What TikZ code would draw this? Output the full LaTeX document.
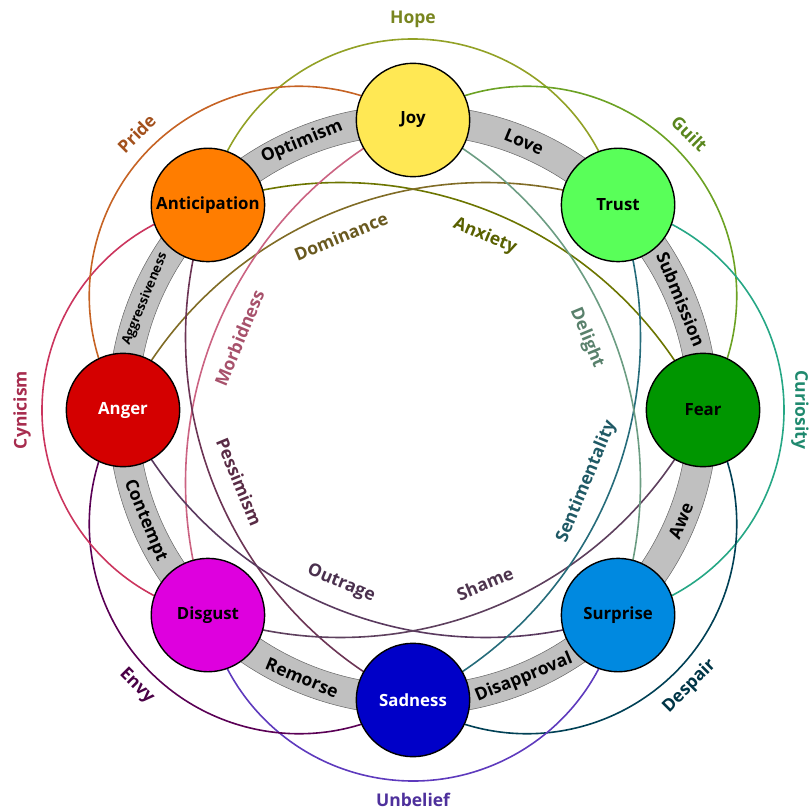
\documentclass[tikz,border=0pt]{standalone}
\usepackage{fontspec}
\setmainfont{Open Sans}
\pgfdeclarelayer{bg}
\pgfsetlayers{bg,main}
\definecolor{cJoy}{RGB}{255,232,84}
\definecolor{cTrust}{RGB}{89,255,89}
\definecolor{cFear}{RGB}{0,150,0}
\definecolor{cSurprise}{RGB}{0,137,224}
\definecolor{cSadness}{RGB}{0,0,200}
\definecolor{cDisgust}{RGB}{222,0,222}
\definecolor{cAnger}{RGB}{212,0,0}
\definecolor{cAntic}{RGB}{255,125,0}
\definecolor{bandgray}{RGB}{192,192,192}
% dyad mixes
\colorlet{mHope}{cAntic!50!cTrust}
\colorlet{mGuilt}{cJoy!50!cFear}
\colorlet{mCuriosity}{cTrust!50!cSurprise}
\colorlet{mDespair}{cFear!50!cSadness}
\colorlet{mUnbelief}{cSurprise!50!cDisgust}
\colorlet{mEnvy}{cSadness!50!cAnger}
\colorlet{mCynicism}{cDisgust!50!cAntic}
\colorlet{mPride}{cAnger!50!cJoy}
\colorlet{mAnxiety}{cAntic!50!cFear}
\colorlet{mDominance}{cAnger!50!cTrust}
\colorlet{mMorbidness}{cDisgust!50!cJoy}
\colorlet{mPessimism}{cSadness!50!cAntic}
\colorlet{mOutrage}{cSurprise!50!cAnger}
\colorlet{mShame}{cFear!50!cDisgust}
\colorlet{mSentimentality}{cTrust!50!cSadness}
\colorlet{mDelight}{cJoy!50!cSurprise}
\begin{document}
\begin{tikzpicture}[x=1pt,y=1pt,
  emo/.style={circle, draw=black, line width=1.4pt, minimum size=113.4pt, inner sep=0pt,
    font=\fontsize{16.8}{19}\selectfont\bfseries},
  arcline/.style={line width=1.6pt},
  bandlabel/.style={font=\fontsize{17.5}{20}\selectfont\bfseries, text=black, inner sep=0pt},
  dlabel/.style={font=\fontsize{17.5}{20}\selectfont\bfseries, inner sep=0pt},
]
\useasboundingbox (-413,-402) rectangle (398,410);

% emotion nodes
\node[emo, fill=cJoy] (joy) at (90:290) {Joy};
\node[emo, fill=cTrust] (trust) at (45:290) {Trust};
\node[emo, fill=cFear] (fear) at (0:290) {Fear};
\node[emo, fill=cSurprise] (surprise) at (-45:290) {Surprise};
\node[emo, fill=cSadness, text=white] (sadness) at (-90:290) {Sadness};
\node[emo, fill=cDisgust] (disgust) at (-135:290) {Disgust};
\node[emo, fill=cAnger, text=white] (anger) at (180:290) {Anger};
\node[emo, fill=cAntic] (antic) at (135:290) {Anticipation};

\begin{pgfonlayer}{bg}
  % primary dyad band
  \fill[bandgray, even odd rule] (0,0) circle[radius=305] (0,0) circle[radius=275];
  \draw[gray!80!black, line width=0.5pt] (0,0) circle[radius=305] (0,0) circle[radius=275];
  % secondary dyads (outer arcs)
  \draw[arcline, mHope!85!black] (antic.center) arc[start angle=167.95, end angle=12.05, radius=209.7];
  \draw[arcline, mGuilt!85!black] (joy.center) arc[start angle=122.95, end angle=-32.95, radius=209.7];
  \draw[arcline, mCuriosity!85!black] (trust.center) arc[start angle=77.95, end angle=-77.95, radius=209.7];
  \draw[arcline, mDespair!85!black] (fear.center) arc[start angle=32.95, end angle=-122.95, radius=209.7];
  \draw[arcline, mUnbelief!85!black] (surprise.center) arc[start angle=-12.05, end angle=-167.95, radius=209.7];
  \draw[arcline, mEnvy!85!black] (sadness.center) arc[start angle=-57.05, end angle=-212.95, radius=209.7];
  \draw[arcline, mCynicism!85!black] (disgust.center) arc[start angle=257.95, end angle=102.05, radius=209.7];
  \draw[arcline, mPride!85!black] (anger.center) arc[start angle=212.95, end angle=57.05, radius=209.7];
  % tertiary dyads (inner arcs)
  \draw[arcline, mAnxiety!85!black] (antic.center) arc[start angle=109.18, end angle=25.82, radius=402.9];
  \draw[arcline, mDominance!85!black] (anger.center) arc[start angle=154.18, end angle=70.82, radius=402.9];
  \draw[arcline, mMorbidness!85!black] (disgust.center) arc[start angle=199.18, end angle=115.82, radius=402.9];
  \draw[arcline, mPessimism!85!black] (sadness.center) arc[start angle=244.18, end angle=160.82, radius=402.9];
  \draw[arcline, mOutrage!85!black] (surprise.center) arc[start angle=289.18, end angle=205.82, radius=402.9];
  \draw[arcline, mShame!85!black] (fear.center) arc[start angle=334.18, end angle=250.82, radius=402.9];
  \draw[arcline, mSentimentality!85!black] (trust.center) arc[start angle=379.18, end angle=295.82, radius=402.9];
  \draw[arcline, mDelight!85!black] (joy.center) arc[start angle=64.18, end angle=-19.18, radius=402.9];
\end{pgfonlayer}

% primary dyad labels
\node[bandlabel, rotate=22.5] (optimism) at (112.5:290) {Optimism};
\node[bandlabel, rotate=-22.5] (love) at (67.5:290) {Love};
\node[bandlabel, rotate=-67.5] (submission) at (22.5:290) {Submission};
\node[bandlabel, rotate=67.5] (awe) at (-22.5:290) {Awe};
\node[bandlabel, rotate=22.5] (disapproval) at (-67.5:290) {Disapproval};
\node[bandlabel, rotate=-22.5] (remorse) at (-112.5:290) {Remorse};
\node[bandlabel, rotate=-67.5] (contempt) at (-157.5:290) {Contempt};
\node[bandlabel, rotate=67.5, font=\fontsize{13}{15}\selectfont\bfseries] (aggress) at (157.5:290) {Aggressiveness};

% secondary dyad labels
\node[dlabel, text=mHope!70!black, rotate=0] (hope) at (90:391) {Hope};
\node[dlabel, text=mGuilt!70!black, rotate=-45] (guilt) at (45:391) {Guilt};
\node[dlabel, text=mCuriosity!70!black, rotate=-90] (curiosity) at (0:387) {Curiosity};
\node[dlabel, text=mDespair!70!black, rotate=45] (despair) at (-45:391) {Despair};
\node[dlabel, text=mUnbelief!70!black, rotate=0] (unbelief) at (-90:390) {Unbelief};
\node[dlabel, text=mEnvy!70!black, rotate=-45] (envy) at (-135:391) {Envy};
\node[dlabel, text=mCynicism!70!black, rotate=90] (cynicism) at (180:391) {Cynicism};
\node[dlabel, text=mPride!70!black, rotate=45] (pride) at (135:391) {Pride};

% tertiary dyad labels
\node[dlabel, text=mAnxiety!70!black, rotate=-22.5] (anxiety) at (67.5:188) {Anxiety};
\node[dlabel, text=mDominance!70!black, rotate=22.5] (dominance) at (112.5:188) {Dominance};
\node[dlabel, text=mMorbidness!70!black, rotate=67.5] (morbidness) at (157.5:188) {Morbidness};
\node[dlabel, text=mPessimism!70!black, rotate=-67.5] (pessimism) at (202.5:188) {Pessimism};
\node[dlabel, text=mOutrage!70!black, rotate=-22.5] (outrage) at (247.5:188) {Outrage};
\node[dlabel, text=mShame!70!black, rotate=22.5] (shame) at (292.5:188) {Shame};
\node[dlabel, text=mSentimentality!70!black, rotate=67.5] (sentimentality) at (337.5:188) {Sentimentality};
\node[dlabel, text=mDelight!70!black, rotate=-67.5] (delight) at (22.5:188) {Delight};
\end{tikzpicture}
\end{document}
